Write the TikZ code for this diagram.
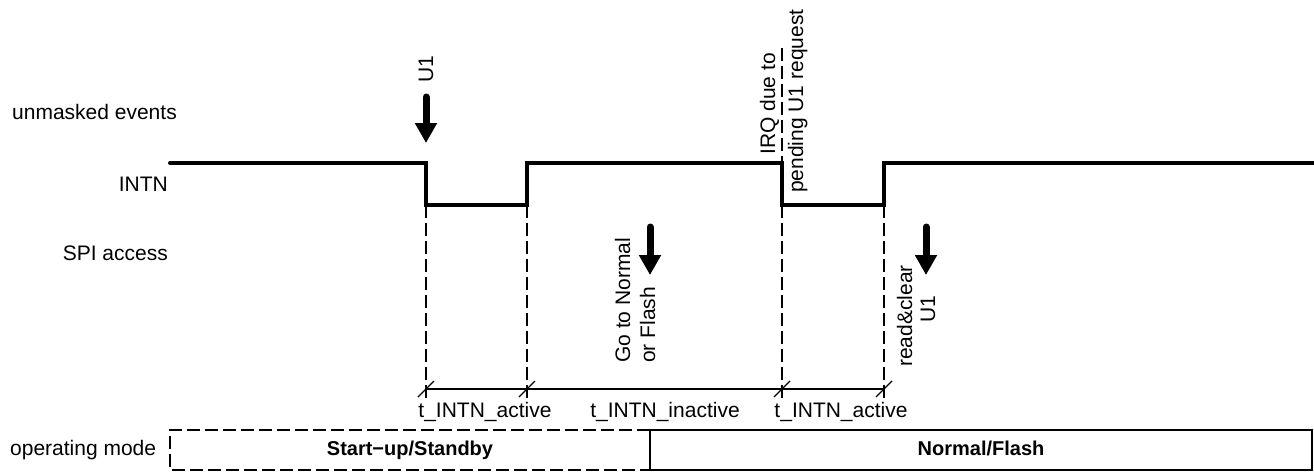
\documentclass[tikz,border=0pt]{standalone}
\usepackage{fontspec}
\setmainfont{Liberation Sans}
\usetikzlibrary{arrows.meta}
\begin{document}
\begin{tikzpicture}[x=1pt,y=-1pt,
  lbl/.style={inner sep=0pt, font=\fontsize{21}{25}\selectfont},
  rlbl/.style={lbl, rotate=90, anchor=base west},
  wave/.style={line width=4pt, line cap=round, line join=miter},
  guide/.style={line width=1.3pt, dash pattern=on 13pt off 5pt},
  dimline/.style={line width=1.3pt},
  evarrow/.style={line width=7pt, line cap=round, -{Triangle[width=21pt,length=20pt]}},
  modebox/.style={line width=1.3pt}]
\useasboundingbox (0,0) rectangle (1314,472);

% levels and edges
\coordinate (hi) at (0,163);
\coordinate (lo) at (0,205);
\coordinate (dim) at (0,389);
\coordinate (gend) at (0,398);
\coordinate (e1) at (426,0);
\coordinate (e2) at (527,0);
\coordinate (e3) at (782,0);
\coordinate (e4) at (884,0);

% row labels
\node[lbl, anchor=base west] (ue) at (12,119) {unmasked events};
\node[lbl, anchor=base east] (intn) at (168,191) {INTN};
\node[lbl, anchor=base east] (spi) at (168,260) {SPI access};
\node[lbl, anchor=base west] (om) at (10,455) {operating mode};

% guide lines
\draw[guide] (e1 |- lo) -- (e1 |- gend);
\draw[guide] (e2 |- lo) -- (e2 |- gend);
\draw[guide] (e3 |- lo) -- (e3 |- gend);
\draw[guide] (e4 |- lo) -- (e4 |- gend);
\draw[guide] (782,48) -- (e3 |- hi);

% INTN waveform
\draw[wave] (170,163) -- (e1 |- hi) -- (e1 |- lo) -- (e2 |- lo) -- (e2 |- hi)
  -- (e3 |- hi) -- (e3 |- lo) -- (e4 |- lo) -- (e4 |- hi) -- (1314,163);

% event arrows
\coordinate (a1s) at (426,97);  \coordinate (a1e) at (426,143);
\coordinate (a2s) at (650,227); \coordinate (a2e) at (650,275);
\coordinate (a3s) at (926,227); \coordinate (a3e) at (926,275);
\draw[evarrow] (a1s) -- (a1e);
\draw[evarrow] (a2s) -- (a2e);
\draw[evarrow] (a3s) -- (a3e);

% rotated labels
\node[rlbl] (u1) at (433,83) {U1};
\node[rlbl] (irq1) at (775,155) {IRQ due to};
\node[rlbl] (irq2) at (803,193) {pending U1 request};
\node[rlbl] (go1) at (630,363) {Go to Normal};
\node[rlbl] (go2) at (655,363) {or Flash};
\node[rlbl] (rc1) at (912,367) {read\&clear};
\node[rlbl] (rc2) at (935,323) {U1};

% dimension line
\draw[dimline] (e1 |- dim) -- (e4 |- dim);
\foreach \e in {e1,e2,e3,e4}{
  \draw[dimline] ([shift={(-8,8)}]\e |- dim) -- ([shift={(8,-8)}]\e |- dim);
}
\node[lbl, anchor=base] (t1) at (485,417) {t\_INTN\_active};
\node[lbl, anchor=base] (t2) at (665,417) {t\_INTN\_inactive};
\node[lbl, anchor=base] (t3) at (841,417) {t\_INTN\_active};

% operating mode boxes
\draw[modebox, dash pattern=on 13pt off 5pt] (650,430) -- (170,430) -- (170,470) -- (650,470);
\draw[modebox] (650,430) rectangle (1312,470);
\node[lbl, font=\fontsize{20}{24}\selectfont\bfseries, anchor=base] (m1) at (410,455) {Start−up/Standby};
\node[lbl, font=\fontsize{20}{24}\selectfont\bfseries, anchor=base] (m2) at (981,455) {Normal/Flash};
\end{tikzpicture}
\end{document}
